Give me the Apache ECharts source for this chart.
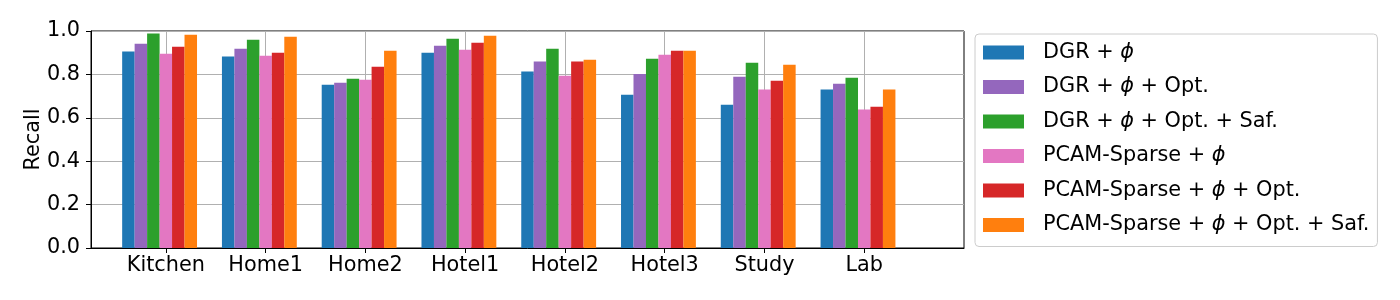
<!DOCTYPE html>
<html>
<head>
<meta charset="utf-8">
<style>
  html, body { margin: 0; padding: 0; background: #ffffff; }
  #chart { width: 1400px; height: 300px; }
</style>
<script src="https://cdn.jsdelivr.net/npm/echarts@6/dist/echarts.min.js"></script>
</head>
<body>
<div id="chart"></div>
<script>
const categories = ['Kitchen', 'Home1', 'Home2', 'Hotel1', 'Hotel2', 'Hotel3', 'Study', 'Lab'];
const seriesNames = [
  'DGR + ϕ',
  'DGR + ϕ + Opt.',
  'DGR + ϕ + Opt. + Saf.',
  'PCAM-Sparse + ϕ',
  'PCAM-Sparse + ϕ + Opt.',
  'PCAM-Sparse + ϕ + Opt. + Saf.'
];
const dgrPhi        = [0.905, 0.882, 0.752, 0.900, 0.813, 0.706, 0.660, 0.730];
const dgrPhiOpt     = [0.941, 0.918, 0.761, 0.932, 0.859, 0.802, 0.789, 0.757];
const dgrPhiOptSaf  = [0.988, 0.960, 0.780, 0.964, 0.918, 0.872, 0.854, 0.785];
const pcamPhi       = [0.895, 0.886, 0.775, 0.914, 0.794, 0.891, 0.730, 0.638];
const pcamPhiOpt    = [0.927, 0.900, 0.835, 0.946, 0.859, 0.909, 0.771, 0.651];
const pcamPhiOptSaf = [0.983, 0.974, 0.909, 0.978, 0.868, 0.909, 0.845, 0.730];
const yTicks = [0, 0.2, 0.4, 0.6, 0.8, 1.0];

const seriesValues = [dgrPhi, dgrPhiOpt, dgrPhiOptSaf, pcamPhi, pcamPhiOpt, pcamPhiOptSaf];
const colors = ['#1f77b4', '#9467bd', '#2ca02c', '#e377c2', '#d62728', '#ff7f0e'];

const FONT = 'DejaVu Sans';
const FS = 20.8;
const barW = 0.125; // bar width in category units

const chart = echarts.init(document.getElementById('chart'), null, { renderer: 'canvas' });

const series = seriesValues.map((vals, s) => ({
  name: seriesNames[s],
  type: 'bar',
  barWidth: 12.5,
  barGap: '-100%',
  itemStyle: { color: colors[s] },
  emphasis: { disabled: true },
  data: vals.map((v, i) => [i + (s - 3) * barW, v])
}));

chart.setOption({
  animation: false,
  textStyle: { fontFamily: FONT },
  grid: {
    left: 91, top: 31, right: 436, bottom: 52,
    show: true, borderColor: '#000000', borderWidth: 1, backgroundColor: 'transparent'
  },
  xAxis: {
    type: 'value',
    min: -0.75,
    max: 8,
    axisLine: { show: true, onZero: false, lineStyle: { color: '#000', width: 1 } },
    axisTick: {
      show: true, inside: false, length: 5,
      lineStyle: { color: '#000', width: 1 },
      customValues: categories.map((c, i) => i)
    },
    axisLabel: {
      show: true,
      customValues: categories.map((c, i) => i),
      formatter: (v) => categories[Math.round(v)],
      color: '#000', fontSize: FS, fontFamily: FONT, margin: 7
    },
    splitLine: { show: true, lineStyle: { color: '#b0b0b0', width: 1 } }
  },
  yAxis: {
    type: 'value',
    min: 0,
    max: 1,
    interval: 0.2,
    name: 'Recall',
    nameLocation: 'middle',
    nameRotate: 90,
    nameGap: 47,
    nameMoveOverlap: false,
    nameTextStyle: { color: '#000', fontSize: FS, fontFamily: FONT },
    axisLine: { show: true, onZero: false, lineStyle: { color: '#000', width: 1 } },
    axisTick: { show: true, inside: false, length: 5, lineStyle: { color: '#000', width: 1 } },
    axisLabel: {
      color: '#000', fontSize: FS, fontFamily: FONT, margin: 11,
      formatter: (v) => v.toFixed(1)
    },
    splitLine: { show: true, lineStyle: { color: '#b0b0b0', width: 1 } }
  },
  legend: {
    orient: 'vertical',
    left: 975,
    top: 34,
    padding: [8, 8, 11, 8],
    itemWidth: 41,
    itemHeight: 14,
    itemGap: 13.5,
    icon: 'rect',
    backgroundColor: '#ffffff',
    borderColor: '#cccccc',
    borderWidth: 1,
    borderRadius: 4,
    selectedMode: false,
    data: seriesNames,
    formatter: (name) => name.replace('ϕ', '{p|ϕ}'),
    textStyle: {
      color: '#000', fontSize: FS, fontFamily: FONT, lineHeight: 21,
      padding: [0, 0, 0, 14],
      rich: {
        p: { fontStyle: 'italic', fontSize: FS, fontFamily: FONT, lineHeight: 21, color: '#000' }
      }
    }
  },
  series: series
});
</script>
</body>
</html>
